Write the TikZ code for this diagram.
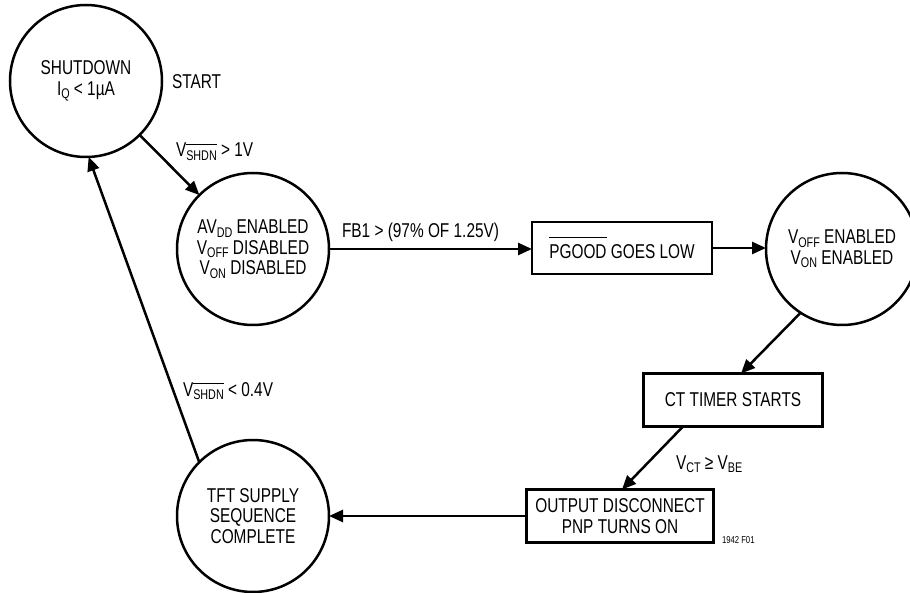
\documentclass[tikz,border=0pt]{standalone}
\usepackage{fontspec}
\setmainfont{Liberation Sans}[FakeStretch=0.77]
\usetikzlibrary{arrows.meta,calc}
\newcommand\sbs[1]{\raisebox{-3.5pt}{\fontsize{14}{14}\selectfont #1}}
\newcommand\ovl[2]{\leavevmode\vbox{\hrule height 1.2pt\kern#1\hbox{#2}}}
\begin{document}
\begin{tikzpicture}[x=1pt,y=-1pt,
  every node/.style={font=\fontsize{20}{20.5}\selectfont, inner sep=0pt, outer sep=0pt},
  state/.style={draw, circle, line width=2.5pt, minimum size=152pt, align=center},
  stepbox/.style={draw, rectangle, line width=2.5pt, minimum height=52pt, align=center},
  conn/.style={line width=2.5pt, -{Triangle[length=14pt,width=12pt]}},
  lbl/.style={anchor=base west}]
\useasboundingbox (0,0) rectangle (910,593);
\node[state] (c1) at (86,81) {SHUTDOWN\\I\sbs{Q} < 1µA};
\node[state] (c2) at (253,249) {AV\sbs{DD} ENABLED\\V\sbs{OFF} DISABLED\\V\sbs{ON} DISABLED};
\node[state] (c3) at (842,249) {V\sbs{OFF} ENABLED\\V\sbs{ON} ENABLED};
\node[state] (c4) at (253,516) {TFT SUPPLY\\SEQUENCE\\COMPLETE};
\node[stepbox, minimum width=180pt] (pg) at (622,248) {\ovl{6.5pt}{PGOOD} GOES LOW};
\node[stepbox, minimum width=179pt, minimum height=53pt] (ct) at (733,400) {CT TIMER STARTS};
\node[stepbox, minimum width=187pt, minimum height=53pt] (out) at (620,516) {OUTPUT DISCONNECT\\PNP TURNS ON};

\draw[conn] (c1) -- (c2);
\draw[conn] (c2.east) -- (c2.east -| pg.west);
\draw[conn] (pg.east) -- (pg.east -| c3.west);
\draw[conn] (c3.237) -- ([xshift=8pt]ct.north);
\draw[conn] ([xshift=-50pt]ct.south) -- ([xshift=2pt]out.north);
\draw[conn] (out.west) -- (out.west -| c4.east);
\draw[conn] (c4.135) -- (c1.-88);

\node[lbl] (tstart) at (172,89) {START};
\node[lbl] (t1) at (176,157) {V\sbs{\ovl{5.5pt}{SHDN}} > 1V};
\node[lbl] (t2) at (342,238) {FB1 > (97\% OF 1.25V)};
\node[lbl] (t3) at (183,396) {V\sbs{\ovl{5.5pt}{SHDN}} < 0.4V};
\node[lbl] (t4) at (676,469) {V\sbs{CT} ≥ V\sbs{BE}};
\node[lbl, font=\fontsize{10}{10}\selectfont] (fig) at (722,543) {1942 F01};
\end{tikzpicture}
\end{document}
